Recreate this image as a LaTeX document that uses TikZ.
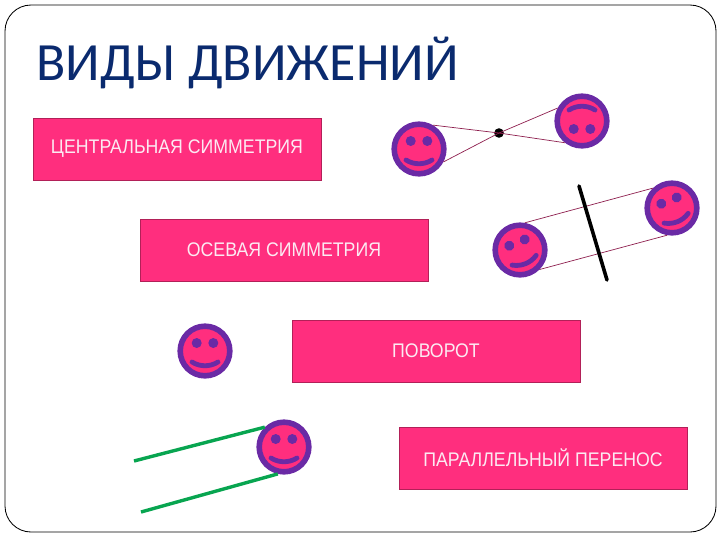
\documentclass[tikz,border=0pt]{standalone}
\usepackage{fontspec}
\setmainfont{Liberation Sans}
\newfontfamily\titlefont{Carlito}
\newfontfamily\boxfont[FakeStretch=0.9]{Liberation Sans}
\definecolor{rosebox}{HTML}{FF2E7E}
\definecolor{facerim}{HTML}{6A2AA5}
\definecolor{titleblue}{HTML}{0A2A6E}
\definecolor{traceline}{HTML}{8E1F4E}
\definecolor{greenline}{HTML}{08A550}
\definecolor{boxtext}{HTML}{FCEAF2}
\begin{document}
\begin{tikzpicture}[x=0.025cm,y=-0.025cm,
	namebox/.style={draw=rosebox!70!black,line width=0.3pt,fill=rosebox,text=boxtext,minimum width=7.2cm,minimum height=1.55cm,inner sep=0pt,font=\boxfont\fontsize{14}{16}\selectfont},
	face/.style={draw=facerim,fill=rosebox,circle,line width=0.14cm,minimum size=1.24cm,inner sep=0pt},
	trace/.style={draw=traceline,line width=0.5pt},
	axisline/.style={draw=black,line width=0.09cm,line cap=round},
	shiftline/.style={draw=greenline,line width=0.085cm},
	pics/smile/.style={code={
		\fill[facerim] (-8.3,-8) circle (5);
		\fill[facerim] (8.3,-8) circle (5);
		\draw[facerim,line width=0.12cm,line cap=round] (-13,11) .. controls (-5,16) and (5,16) .. (13,11);
	}}]
	\useasboundingbox (0,0) rectangle (720,540);
	\draw[black,line width=0.6pt,rounded corners=0.65cm] (5,5) rectangle (716,532);
	\node[font=\titlefont\fontsize{38.3}{40}\selectfont,text=titleblue,anchor=base west,inner sep=0pt] (title) at (36,80) {ВИДЫ ДВИЖЕНИЙ};
	% the four names
	\node[namebox] (central) at (177,149) {ЦЕНТРАЛЬНАЯ СИММЕТРИЯ};
	\node[namebox] (axial) at (284,250) {ОСЕВАЯ СИММЕТРИЯ};
	\node[namebox] (rotation) at (436,351) {ПОВОРОТ};
	\node[namebox] (translation) at (543,458) {ПАРАЛЛЕЛЬНЫЙ ПЕРЕНОС};
	% the faces
	\node[face] (smA) at (419,149) {};
	\node[face] (smB) at (582,121) {};
	\node[face] (smC) at (520,250) {};
	\node[face] (smD) at (672,208) {};
	\node[face] (smE) at (205,351) {};
	\node[face] (smF) at (284,447) {};
	\pic at (smA) {smile};
	\pic[rotate=180] at (smB) {smile};
	\pic[rotate=22] at (smC) {smile};
	\pic[rotate=22] at (smD) {smile};
	\pic at (smE) {smile};
	\pic at (smF) {smile};
	% central symmetry
	\node[circle,fill=black,minimum size=0.24cm,inner sep=0pt] (centre) at (499,133) {};
	\draw[trace] (smA.60) -- (centre.center) -- (smB.232);
	\draw[trace] (smA.-28) -- (centre.center) -- (smB.152);
	% axial symmetry
	\draw[trace] (smC.80) -- (smD.134);
	\draw[trace] (smC.-45) -- (smD.260);
	\coordinate (axisA) at (579,186);
	\coordinate (axisB) at (607,280);
	\draw[axisline] (axisA) -- (axisB);
	% translation
	\coordinate (shiftA) at (134,461);
	\coordinate (shiftB) at (141,512);
	\draw[shiftline] (shiftA) -- (smF.134);
	\draw[shiftline] (shiftB) -- (smF.257);
\end{tikzpicture}
\end{document}
